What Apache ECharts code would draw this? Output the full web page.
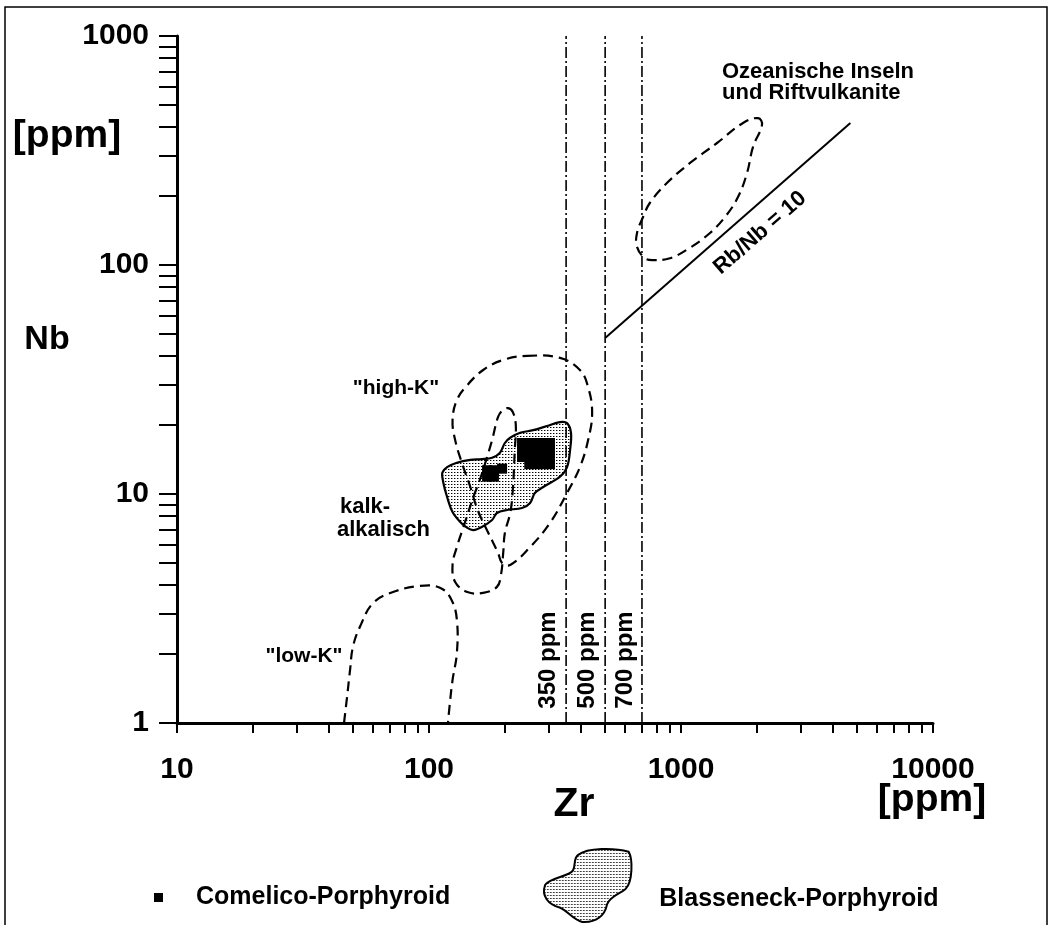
<!DOCTYPE html>
<html>
<head>
<meta charset="utf-8">
<script src="https://cdn.jsdelivr.net/npm/echarts@6/dist/echarts.min.js"></script>
<style>
html,body{margin:0;padding:0;background:#fff;}
#chart{width:1053px;height:925px;}
</style>
</head>
<body>
<div id="chart"></div>
<script>
// ---------------- DATA ----------------
const zrTicks = [10,20,30,40,50,60,70,80,90,100,200,300,400,500,600,700,800,900,1000,2000,3000,4000,5000,6000,7000,8000,9000,10000];
const nbTicks = [1,2,3,4,5,6,7,8,9,10,20,30,40,50,60,70,80,90,100,200,300,400,500,600,700,800,900,1000];

// Zr limit lines [ppm]
const zrLimits = [350, 500, 700];
const zrLimitLabels = ['350 ppm', '500 ppm', '700 ppm'];

// Rb/Nb = 10 reference line
const refLineZr = [500, 4700];
const refLineNb = [48, 417];

// Ozeanische Inseln field (closed)
const oibZr = [2023, 2096, 1931, 1828, 1683, 1495, 1303, 1086, 904, 774, 719, 669, 669, 707, 753, 879, 1086, 1390, 1762];
const oibNb = [438, 409, 328, 252, 198, 162, 138, 119, 107, 105, 107, 120, 138, 162, 187, 228, 279, 341, 417];

// "high-K" field (closed)
const highKZr = [245, 331, 397, 428, 444, 428, 397, 353, 302, 252, 210, 195, 188, 172, 156, 146, 135, 127, 124, 129, 142, 164, 197];
const highKNb = [40.1, 39.3, 34.8, 29.3, 22.6, 17.2, 13.1, 10.1, 7.47, 5.87, 4.90, 5.00, 5.53, 6.76, 8.51, 10.7, 13.7, 17.2, 21.0, 25.7, 29.9, 34.8, 38.5];

// kalk-alkalisch field (closed)
const calcZr = [206, 215, 221, 219, 215, 210, 200, 197, 193, 186, 164, 142, 127, 124, 129, 137, 150, 159, 170, 178, 188, 197];
const calcNb = [23.7, 22.8, 20.0, 15.6, 10.4, 8.26, 6.76, 5.53, 4.43, 3.93, 3.70, 3.73, 4.13, 4.90, 5.87, 7.18, 9.70, 11.5, 14.5, 17.2, 21.7, 23.3];

// "low-K" field (open at axis)
const lowKZr = [46, 47.3, 48.6, 49.9, 53.2, 60.0, 72.0, 92.1, 111, 123, 129, 129, 124, 121, 119];
const lowKNb = [1.0, 1.30, 1.70, 2.15, 2.63, 3.34, 3.73, 3.97, 3.89, 3.44, 2.82, 2.02, 1.54, 1.22, 1.01];

// Blasseneck-Porphyroid field
const blassZr = [113, 118, 129, 146, 162, 178, 191, 200, 210, 230, 259, 294, 331, 353, 366, 363, 353, 331, 283, 263, 252, 234, 204, 186, 178, 162, 150, 142, 133, 124, 118, 114];
const blassNb = [12.4, 13.1, 13.7, 14.1, 14.2, 14.4, 15.1, 16.7, 17.6, 18.5, 19.0, 19.8, 20.6, 20.4, 18.5, 15.6, 13.1, 11.9, 10.7, 10.1, 9.14, 8.69, 8.51, 8.26, 7.70, 7.18, 6.96, 7.11, 7.55, 8.34, 9.70, 11.2];

// Comelico-Porphyroid samples
const comZr = [234, 250, 266, 283, 302, 234, 250, 266, 283, 302, 234, 250, 266, 283, 302, 250, 266, 283, 302, 170, 170, 181, 181, 195];
const comNb = [16.7, 16.7, 16.7, 16.7, 16.7, 15.6, 15.6, 15.6, 15.6, 15.6, 14.5, 14.5, 14.5, 14.5, 14.5, 13.5, 13.5, 13.5, 13.5, 12.7, 11.9, 12.7, 11.9, 12.9];

// ---------------- CHART ----------------
const FONT = 'Liberation Sans';
const pc = document.createElement('canvas');
pc.width = 3; pc.height = 3;
const pctx = pc.getContext('2d');
pctx.fillStyle = '#fff'; pctx.fillRect(0, 0, 3, 3);
pctx.fillStyle = '#000'; pctx.fillRect(1, 1, 1, 1);
pctx.fillStyle = '#999'; pctx.fillRect(2, 1, 1, 1);
const stipple = { image: pc, repeat: 'repeat' };

function pairs(xs, ys) { return xs.map((x, i) => [x, ys[i]]); }

function shapeSeries(name, xs, ys, type, style, smooth, z) {
  return {
    name: name,
    type: 'custom',
    coordinateSystem: 'cartesian2d',
    data: pairs(xs, ys),
    encode: { x: 0, y: 1 },
    z: z,
    silent: true,
    itemStyle: style.fill && style.fill.image ? { color: style.fill, borderColor: '#000', borderWidth: 2 } : undefined,
    renderItem: function (params, api) {
      if (params.dataIndex !== 0) return null;
      const pts = xs.map((x, i) => api.coord([x, ys[i]]));
      return { type: type, shape: { points: pts, smooth: smooth }, style: Object.assign({}, style) };
    }
  };
}

const dashed = { fill: null, stroke: '#000', lineWidth: 2.2, lineDash: [10, 6] };

const series = [
  shapeSeries('Blasseneck-Porphyroid', blassZr, blassNb, 'polygon',
    { fill: stipple, stroke: '#000', lineWidth: 2.2 }, 0.35, 2),
  {
    name: 'Comelico-Porphyroid',
    type: 'scatter',
    data: pairs(comZr, comNb),
    symbol: 'rect',
    symbolSize: 10,
    itemStyle: { color: '#000', opacity: 1 },
    emphasis: { disabled: true },
    z: 3,
    silent: true
  },
  shapeSeries('oib', oibZr, oibNb, 'polygon', dashed, 0.4, 4),
  shapeSeries('highK', highKZr, highKNb, 'polygon', dashed, 0.4, 4),
  shapeSeries('calc', calcZr, calcNb, 'polygon', dashed, 0.4, 4),
  shapeSeries('lowK', lowKZr, lowKNb, 'polyline', dashed, 0.4, 4),
  {
    name: 'ref', type: 'line', data: pairs(refLineZr, refLineNb),
    symbol: 'none', lineStyle: { color: '#000', width: 2 }, z: 5, silent: true
  }
];
zrLimits.forEach((z, i) => {
  series.push({
    name: 'lim' + i, type: 'line', data: [[z, 1], [z, 1000]],
    symbol: 'none', z: 5, silent: true,
    lineStyle: { color: '#000', width: 1.6, type: [11, 3, 2, 3] }
  });
});

const txt = (x, y, s, size, opts, align) => Object.assign({
  type: 'text', x: x, y: y,
  style: { text: s, font: 'bold ' + size + 'px "' + FONT + '"', fill: '#000', align: align || 'center', verticalAlign: 'middle' }
}, opts || {});

const graphics = [
  { type: 'polyline', shape: { points: [[5, 925], [5, 7], [1047, 7], [1047, 925]] }, style: { stroke: '#000', lineWidth: 1.5, fill: null } },
  txt(47, 340, 'Nb', 34),
  txt(67, 136, '[ppm]', 39),
  txt(574, 805, 'Zr', 41),
  txt(932, 800, '[ppm]', 39),
  txt(722, 72, 'Ozeanische Inseln', 22, {}, 'left'),
  txt(722, 93, 'und Riftvulkanite', 22, {}, 'left'),
  txt(396, 388, '"high-K"', 21),
  txt(340, 507, 'kalk-', 22, {}, 'left'),
  txt(337, 530, 'alkalisch', 22, {}, 'left'),
  txt(304, 656, '"low-K"', 21),
  txt(760, 233, 'Rb/Nb = 10', 22, { rotation: 41 * Math.PI / 180 })
];
const ppmX = [548, 587, 625];
zrLimitLabels.forEach((s, i) => graphics.push(txt(ppmX[i], 660, s, 24, { rotation: Math.PI / 2 })));

const option = {
  backgroundColor: '#fff',
  animation: false,
  grid: { left: 177, top: 36, right: 120, bottom: 202, containLabel: false },
  xAxis: {
    type: 'log', logBase: 10, min: 10, max: 10000,
    axisLine: { show: true, lineStyle: { color: '#000', width: 3 } },
    axisTick: { show: true, length: 10, lineStyle: { color: '#000', width: 2 }, customValues: zrTicks },
    axisLabel: { margin: 32, color: '#000', fontFamily: FONT, fontWeight: 'bold', fontSize: 30,
      formatter: v => String(Math.round(v)) },
    splitLine: { show: false }, minorTick: { show: false }
  },
  yAxis: {
    type: 'log', logBase: 10, min: 1, max: 1000,
    axisLine: { show: true, lineStyle: { color: '#000', width: 3 } },
    axisTick: { show: true, length: 18, lineStyle: { color: '#000', width: 2 }, customValues: nbTicks },
    axisLabel: { margin: 28, color: '#000', fontFamily: FONT, fontWeight: 'bold', fontSize: 30,
      formatter: v => String(Math.round(v)) },
    splitLine: { show: false }, minorTick: { show: false }
  },
  legend: [
    {
      data: [{ name: 'Comelico-Porphyroid', icon: 'rect' }],
      left: 154, top: 885, itemWidth: 9, itemHeight: 9, padding: 0, selectedMode: false,
      itemStyle: { color: '#000' },
      textStyle: { fontFamily: FONT, fontWeight: 'bold', fontSize: 25, color: '#000', padding: [0, 0, 0, 28] }
    },
    {
      data: [{ name: 'Blasseneck-Porphyroid',
        icon: 'path://M36,7 C45,0 71,0 85,4 C89,11 89,33 82,40 C76,45 67,47 64,55 C62,66 53,73 40,72 C31,70 27,62 18,58 C7,55 0,47 4,36 C9,29 27,28 31,22 C34,16 31,11 36,7 Z' }],
      left: 543, top: 848, itemWidth: 89, itemHeight: 73, padding: 0, selectedMode: false,
      itemStyle: { color: stipple, borderColor: '#000', borderWidth: 2 },
      formatter: n => '\n' + n,
      textStyle: { fontFamily: FONT, fontWeight: 'bold', fontSize: 25, color: '#000', lineHeight: 27, padding: [0, 0, 0, 22] }
    }
  ],
  graphic: graphics,
  series: series
};

const chart = echarts.init(document.getElementById('chart'));
chart.setOption(option);
</script>
</body>
</html>
